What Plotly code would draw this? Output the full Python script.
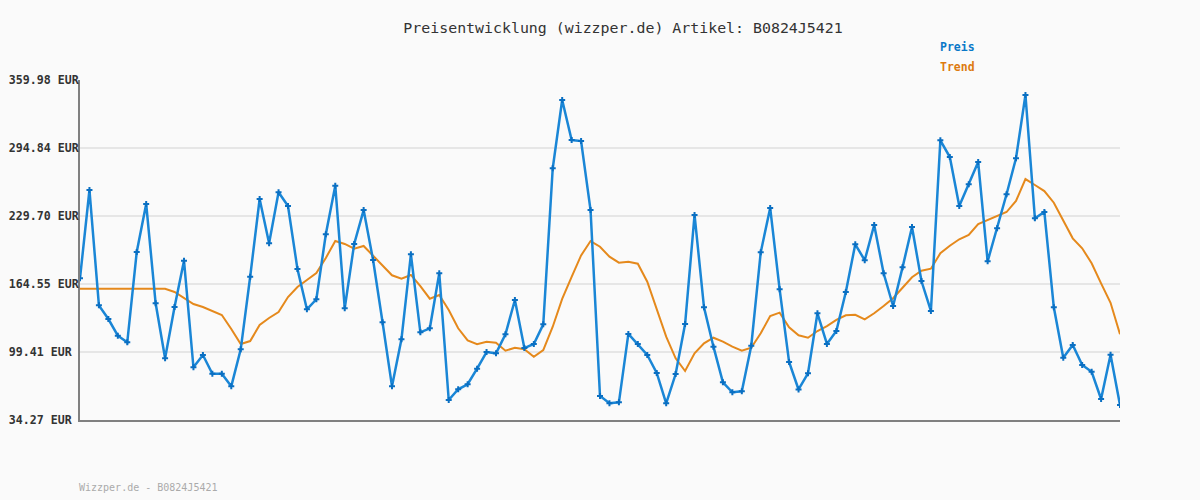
import plotly.graph_objects as go

# ---- data ----
idx = list(range(111))

preis = [
    170.0, 254.6, 144.1, 131.0, 115.0, 108.7, 195.2, 241.2, 146.1, 93.4,
    142.5, 186.9, 84.8, 96.5, 78.6, 78.6, 66.5, 102.0, 171.5, 246.0,
    203.5, 252.4, 239.3, 178.9, 140.3, 149.9, 212.2, 258.7, 141.3, 202.9,
    235.4, 187.5, 127.9, 66.5, 111.6, 193.0, 118.3, 122.1, 174.8, 53.4,
    63.7, 68.5, 83.4, 99.4, 98.2, 116.4, 149.2, 103.2, 107.1, 125.9,
    275.4, 340.8, 302.5, 301.5, 235.4, 57.3, 50.3, 51.2, 116.7, 107.1,
    96.5, 79.3, 50.3, 78.3, 126.2, 230.7, 142.2, 104.5, 70.4, 60.8,
    61.8, 105.4, 194.9, 237.4, 159.5, 89.8, 63.5, 79.0, 136.5, 107.1,
    119.5, 156.9, 202.6, 187.3, 221.1, 174.8, 143.5, 180.5, 219.2, 167.4,
    138.7, 302.2, 286.2, 239.3, 260.1, 281.4, 186.3, 217.9, 250.5, 285.0,
    345.6, 227.5, 233.5, 142.2, 93.9, 106.1, 87.0, 80.5, 54.4, 96.8,
    48.6,
]

trend = [
    160.0, 160.0, 160.0, 160.0, 160.0, 160.0, 160.0, 160.0, 160.0, 160.0,
    156.9, 151.1, 145.4, 142.5, 138.7, 134.9, 121.4, 107.1, 109.9, 125.3,
    132.0, 137.7, 152.1, 161.7, 168.4, 175.1, 189.5, 205.7, 202.9, 198.4,
    201.0, 191.4, 181.8, 172.9, 169.6, 173.2, 162.6, 150.5, 154.0, 139.6,
    122.1, 110.6, 106.8, 109.3, 108.3, 100.7, 103.5, 102.0, 94.9, 101.3,
    123.6, 150.2, 171.3, 191.9, 205.7, 200.3, 190.7, 185.0, 185.9, 184.0,
    166.8, 139.6, 114.1, 93.4, 81.2, 98.2, 107.7, 113.1, 109.3, 104.5,
    100.7, 103.5, 117.3, 133.9, 137.1, 123.1, 115.4, 113.1, 119.5, 124.3,
    130.1, 134.6, 135.1, 130.7, 136.5, 143.5, 150.9, 161.0, 171.0, 177.3,
    179.2, 194.0, 201.2, 207.4, 211.5, 222.0, 225.9, 230.0, 233.5, 244.1,
    265.1, 259.4, 253.6, 242.4, 225.9, 208.3, 198.8, 184.4, 165.2, 146.6,
    116.4,
]

y_ticks = [34.27, 99.41, 164.55, 229.70, 294.84, 359.98]
y_tick_text = ["34.27 EUR", "99.41 EUR", "164.55 EUR", "229.70 EUR", "294.84 EUR", "359.98 EUR"]

title_text = "Preisentwicklung (wizzper.de) Artikel: B0824J5421"
footer_text = "Wizzper.de - B0824J5421"

# ---- styles ----
BLUE = "#1a86d6"
BLUE_MARK = "#0a6fc2"
ORANGE = "#e5891c"
MONO = "DejaVu Sans Mono"

# pad shorter labels with NBSP so that right-aligned monospace labels start at same x
maxlen = max(len(t) for t in y_tick_text)
y_tick_text_padded = [t + "\u00a0" * (maxlen - len(t)) for t in y_tick_text]

fig = go.Figure()
fig.add_trace(go.Scatter(
    x=idx, y=trend, mode="lines", name="Trend",
    line=dict(color=ORANGE, width=2), hoverinfo="skip",
))
fig.add_trace(go.Scatter(
    x=idx, y=preis, mode="lines+markers", name="Preis",
    line=dict(color=BLUE, width=2.5),
    marker=dict(symbol="cross", size=5, color=BLUE_MARK),
))

fig.update_layout(
    width=1200, height=500,
    margin=dict(l=80, r=80, t=80, b=80, autoexpand=False),
    paper_bgcolor="#fafafa", plot_bgcolor="#fafafa",
    showlegend=False,
    title=dict(
        text=title_text, x=623 / 1200, xref="container", xanchor="center",
        y=1 - 28 / 500, yref="container", yanchor="middle",
        font=dict(family=MONO, size=14.9, color="#333333"),
    ),
    xaxis=dict(
        range=[0, 110], showgrid=False, zeroline=False, showticklabels=False,
        ticks="", showline=True, linecolor="#808080", linewidth=2,
        automargin=False,
    ),
    yaxis=dict(
        range=[34.27, 359.98], tickvals=y_ticks, ticktext=y_tick_text_padded,
        showgrid=True, gridcolor="#e6e6e6", gridwidth=2, zeroline=False,
        ticks="", showline=True, linecolor="#808080", linewidth=2,
        ticklabelstandoff=-3, automargin=False,
        tickfont=dict(family=MONO, size=11.6, color="#333333", weight="bold"),
    ),
    annotations=[
        dict(text="<b>Preis</b>", xref="paper", yref="paper",
             x=(938 - 80) / 1040, y=(420 - 47) / 340, xanchor="left", yanchor="middle",
             showarrow=False, font=dict(family=MONO, size=11.5, color="#0a78c8")),
        dict(text="<b>Trend</b>", xref="paper", yref="paper",
             x=(938 - 80) / 1040, y=(420 - 67) / 340, xanchor="left", yanchor="middle",
             showarrow=False, font=dict(family=MONO, size=11.5, color="#dd7a10")),
        dict(text=footer_text, xref="paper", yref="paper",
             x=(77 - 80) / 1040, y=(420 - 487) / 340, xanchor="left", yanchor="middle",
             showarrow=False, font=dict(family=MONO, size=10, color="#aaaaaa")),
    ],
)

fig.write_html(
    "out.html",
    config={"displayModeBar": False},
    post_script="document.body.style.margin='0';document.body.style.background='#fafafa';",
)
